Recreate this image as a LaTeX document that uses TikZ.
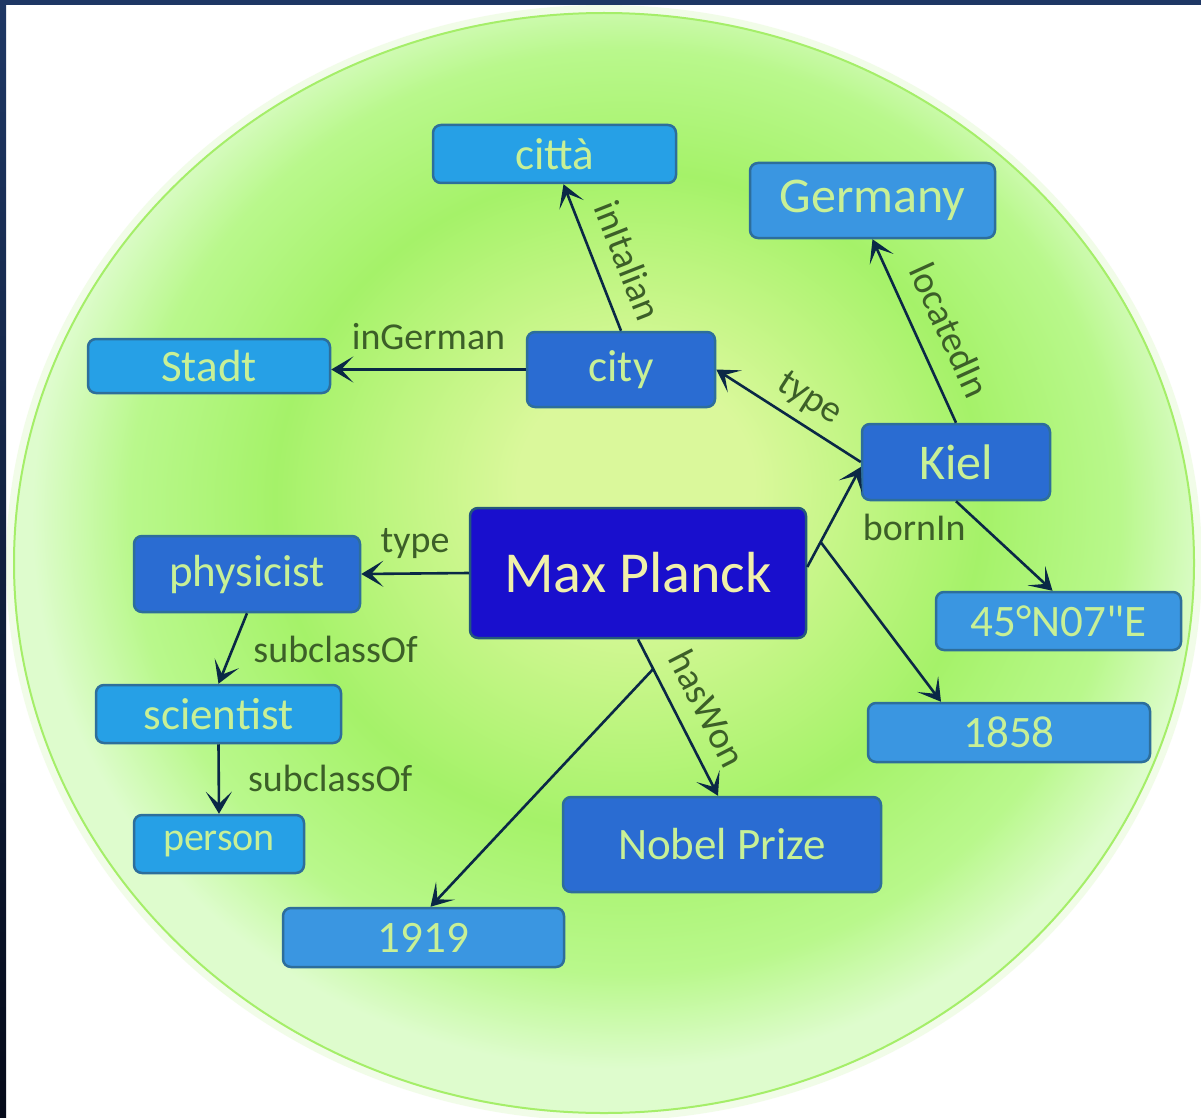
\documentclass[tikz,border=0pt]{standalone}
\usepackage{fontspec}
\setmainfont{Carlito}[Ligatures=TeXOff]
\usetikzlibrary{arrows.meta,calc}
\definecolor{frametop}{RGB}{30,55,100}
\definecolor{framebot}{RGB}{5,10,25}
\definecolor{gcenter}{RGB}{218,248,155}
\definecolor{gmid}{RGB}{165,242,105}
\definecolor{gmidb}{RGB}{185,248,140}
\definecolor{gedge}{RGB}{222,252,205}
\definecolor{goutline}{RGB}{165,238,105}
\definecolor{lightblue}{RGB}{38,160,230}
\definecolor{medblue}{RGB}{58,150,225}
\definecolor{darkblue}{RGB}{42,108,210}
\definecolor{mpblue}{RGB}{25,15,205}
\definecolor{boxborder}{RGB}{45,110,155}
\definecolor{boxtext}{RGB}{200,240,150}
\definecolor{mptext}{RGB}{240,240,170}
\definecolor{edgecol}{RGB}{10,40,70}
\definecolor{lblcol}{RGB}{60,95,40}
\pgfdeclareradialshading{greenball}{\pgfpoint{1.5bp}{4bp}}{color(0bp)=(gcenter); color(5bp)=(gcenter); color(15bp)=(gmid); color(21bp)=(gmidb); color(25bp)=(gedge); color(50bp)=(gedge)}
\tikzset{
  box/.style={rectangle, rounded corners=8pt, draw=boxborder, line width=2.5pt,
    text=boxtext, inner sep=0pt, font=\fontsize{45}{50}\selectfont},
  lightbox/.style={box, fill=lightblue},
  medbox/.style={box, fill=medblue},
  darkbox/.style={box, fill=darkblue},
  mpbox/.style={box, fill=mpblue, draw=boxborder!80!black, text=mptext, font=\fontsize{58}{64}\selectfont},
  edge/.style={draw=edgecol, line width=2.6pt, -{Stealth[length=22pt,width=26pt,inset=12pt]}},
  lbl/.style={text=lblcol, inner sep=0pt, font=\fontsize{38}{42}\selectfont}
}
\begin{document}
\begin{tikzpicture}[x=1pt,y=-1pt]
\useasboundingbox (0,0) rectangle (1201,1118);
\fill[white] (0,0) rectangle (1201,1118);
% halo and green ellipse
\fill[goutline, opacity=0.15] (604,563) ellipse [x radius=598, y radius=558];
\path[shading=greenball] (604,563) ellipse [x radius=590, y radius=550];
\draw[goutline, line width=2pt] (604,563) ellipse [x radius=590, y radius=550];
% frame
\fill[frametop] (0,0) rectangle (1201,5);
\shade[top color=frametop, bottom color=framebot] (0,0) rectangle (6,1118);
% nodes
\node[lightbox, minimum width=243pt, minimum height=58pt] (citta) at (554.5,154) {città};
\node[medbox, minimum width=245pt, minimum height=75pt, font=\fontsize{50}{55}\selectfont] (germany) at (872.5,200.5) {Germany};
\node[lightbox, minimum width=242pt, minimum height=54pt] (stadt) at (209,366) {Stadt};
\node[darkbox, minimum width=188pt, minimum height=75pt] (city) at (621,369.5) {city};
\node[darkbox, minimum width=188pt, minimum height=76pt, font=\fontsize{50}{55}\selectfont] (kiel) at (956,462) {Kiel};
\node[darkbox, minimum width=226pt, minimum height=76pt] (physicist) at (247,574) {physicist};
\node[mpbox, minimum width=336pt, minimum height=130pt] (mp) at (638,573) {Max Planck};
\node[medbox, minimum width=245pt, minimum height=58pt] (coord) at (1058.5,621) {45°N07"E};
\node[lightbox, minimum width=245pt, minimum height=58pt] (scientist) at (218.5,714) {scientist};
\node[medbox, minimum width=282pt, minimum height=59pt] (y1858) at (1009,732.5) {1858};
\node[lightbox, minimum width=170pt, minimum height=58pt, font=\fontsize{40}{44}\selectfont] (person) at (219,844) {person};
\node[darkbox, minimum width=318pt, minimum height=95pt] (nobel) at (722,844.5) {Nobel Prize};
\node[medbox, minimum width=281pt, minimum height=59pt] (y1919) at (423.5,937.5) {1919};
% edges
\draw[edge] (city.north) -- node[lbl, pos=0.40, sloped, above=18pt] {inItalian} ([xshift=9pt]citta.south);
\draw[edge] (city.west) -- node[lbl, above=18pt] {inGerman} (city.west -| stadt.east);
\draw[edge] (kiel.west) -- node[lbl, pos=0.45, sloped, above=9pt] {type} (city.east);
\draw[edge] (kiel.north) -- node[lbl, pos=0.43, sloped, above=18pt] {locatedIn} (germany.south);
\draw[edge] (kiel.south) -- ([xshift=-6pt]coord.north);
\draw[edge] ([yshift=6pt]mp.east) -- node[lbl, pos=0.4, anchor=west, xshift=33pt] {bornIn} coordinate[pos=0.25] (r1) ([yshift=-5pt]kiel.west);
\draw[edge] (r1) -- ([xshift=-68pt]y1858.north);
\draw[edge] (mp.west) -- node[lbl, above=14pt] {type} (physicist.east);
\draw[edge] (physicist.south) -- node[lbl, pos=0.52, anchor=west, xshift=20pt] {subclassOf} (scientist.north);
\draw[edge] (scientist.south) -- node[lbl, pos=0.49, anchor=west, xshift=28pt] {subclassOf} (person.north);
\draw[edge] (mp.south) -- node[lbl, pos=0.53, sloped, above=16pt] {hasWon} coordinate[pos=0.19] (r2) ([xshift=-4pt]nobel.north);
\draw[edge] (r2) -- ([xshift=7pt]y1919.north);
\end{tikzpicture}
\end{document}
